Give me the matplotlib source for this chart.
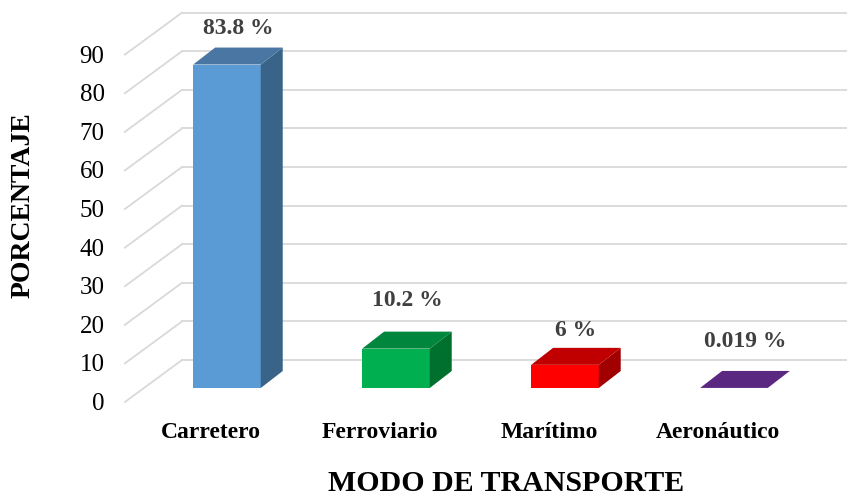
import numpy as np
import matplotlib.pyplot as plt
from matplotlib.patches import Polygon

# Data
categories = ["Carretero", "Ferroviario", "Marítimo", "Aeronáutico"]
values = [83.8, 10.2, 6, 0.019]
labels = ["83.8 %", "10.2 %", "6 %", "0.019 %"]
ticks = np.arange(0, 100, 10)

# colours (front, top, side)
front_cols = ["#5B9BD5", "#00B050", "#FF0000", "#5A2781"]
top_cols = ["#4A76A3", "#00873D", "#C00000", "#5A2781"]
side_cols = ["#3A6389", "#00702F", "#A00000", "#4A1F6B"]

plt.rcParams["font.family"] = ["Liberation Serif", "DejaVu Serif"]

fig = plt.figure(figsize=(8.47, 4.97), dpi=100)
ax = fig.add_axes([0, 0, 1, 1])
ax.set_xlim(-1.343, 3.669)
ax.set_ylim(-28.24, 100.52)
ax.axis("off")

# 3D look
w = 0.40          # bar width
dx, dy = 0.13, 4.4  # bar depth
front_off = (-0.604, -3.63)   # front edge of floor / walls
back_off = (-0.266, 7.25)     # back wall
grid_col = "#D9D9D9"

for t in ticks:
    fy = t + front_off[1]
    by = t + back_off[1]
    ax.plot([front_off[0], back_off[0]], [fy, by], color=grid_col, lw=1.3, zorder=1)
    ax.plot([back_off[0], 3.67], [by, by], color=grid_col, lw=1.3, zorder=1)
    ax.text(front_off[0] - 0.12, fy - 0.5, str(t), ha="right", va="center", fontsize=18, color="black")

label_off = [5.0, 8.0, 4.6, 7.5]
for i, v in enumerate(values):
    x0, x1 = i - w / 2, i + w / 2
    ax.add_patch(Polygon([(x0, 0), (x1, 0), (x1, v), (x0, v)], closed=True,
                         facecolor=front_cols[i], edgecolor="none", zorder=3))
    ax.add_patch(Polygon([(x1, 0), (x1 + dx, dy), (x1 + dx, v + dy), (x1, v)], closed=True,
                         facecolor=side_cols[i], edgecolor="none", zorder=3))
    ax.add_patch(Polygon([(x0, v), (x1, v), (x1 + dx, v + dy), (x0 + dx, v + dy)], closed=True,
                         facecolor=top_cols[i], edgecolor="none", zorder=4))
    ax.text(i + dx / 2, v + dy + label_off[i], labels[i], ha="center", va="center",
            fontsize=17, fontweight="bold", color="#404040")
    ax.text(i - 0.095, -11.5, categories[i], ha="center", va="center",
            fontsize=17, fontweight="bold", color="black")

fig.text(0.027, 0.587, "PORCENTAJE", rotation=90, ha="center", va="center",
         fontsize=20, fontweight="bold")
fig.text(0.598, 0.027, "MODO DE TRANSPORTE", ha="center", va="center",
         fontsize=21.5, fontweight="bold")

plt.savefig("out.png", dpi=100)
